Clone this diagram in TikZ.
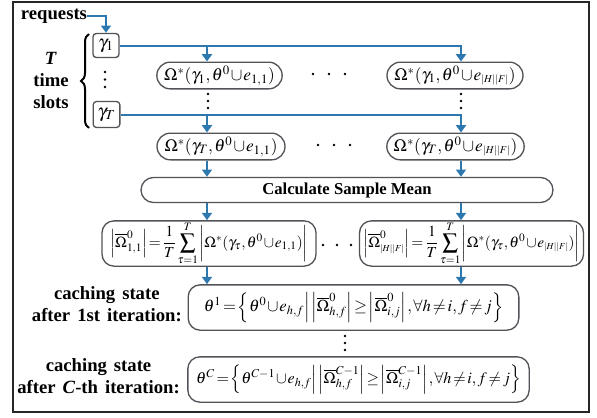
\documentclass[tikz,border=0pt]{standalone}
\usepackage{amsmath}
\usepackage{mathptmx}
\usepackage[no-math]{fontspec}
\setmainfont{Liberation Serif}
\newfontfamily\widesp{Liberation Serif}[WordSpace=1.5]
\usetikzlibrary{arrows.meta,shapes.misc,decorations.pathreplacing}
\definecolor{arrblue}{HTML}{2E78B0}
\definecolor{boxgray}{HTML}{505358}
\newcommand{\tightmath}{\thickmuskip=2mu plus 1mu\medmuskip=1mu plus 1mu\thinmuskip=1.5mu}
\newcommand{\HF}{{\scriptscriptstyle|H||F|}}
\begin{document}
\begin{tikzpicture}[x=0.75pt,y=-0.75pt,
  arr/.style={draw=arrblue,line width=1.5pt,-{Triangle[width=7.5pt,length=5.5pt]}},
  box/.style={draw=boxgray,line width=1pt,inner sep=0pt,align=center},
  pill/.style={box,rounded rectangle,minimum height=20pt,font=\fontsize{13}{15}\selectfont\tightmath},
  rbox/.style={box,rounded corners=9pt,minimum height=34pt,font=\fontsize{12.5}{15}\selectfont\tightmath},
  mbox/.style={box,rounded corners=9pt,minimum height=34pt,font=\fontsize{11.5}{14}\selectfont\tightmath},
  gbox/.style={box,rounded corners=2.5pt,font=\fontsize{14}{16}\selectfont},
  lab/.style={font=\bfseries\fontsize{14}{16}\selectfont,align=center,inner sep=0pt},
  clab/.style={lab,font=\widesp\bfseries\fontsize{14}{16}\selectfont,anchor=east},
]
\useasboundingbox (0,0) rectangle (597,418);
\draw[line width=1pt,draw=black!85] (13,2) rectangle (589,412);

% labels
\node[lab] (req) at (54,16) {requests};
\node[lab,font=\bfseries\fontsize{14}{16.5}\selectfont] (tts) at (51,80) {\textit{T}\\time\\slots};
\draw[line width=1.5pt,decorate,decoration={brace,amplitude=6pt}] (89,128) -- (89,34);

% time slot boxes
\node[gbox,minimum width=19.5pt,minimum height=18pt] (g1) at (106,45.5) {$\gamma_1$};
\node[gbox,minimum width=20pt,minimum height=19.5pt] (gT) at (106.5,114.5) {$\gamma_T$};

% Omega nodes
\node[pill,minimum width=94pt] (o11) at (219.5,75.5) {$\Omega^*(\gamma_1,\theta^0\cup e_{1,1})$};
\node[pill,minimum width=102pt] (o1H) at (455,75.5) {$\Omega^*(\gamma_1,\theta^0\cup e_\HF)$};
\node[pill,minimum width=96pt] (oT1) at (221,146.5) {$\Omega^*(\gamma_T,\theta^0\cup e_{1,1})$};
\node[pill,minimum width=103pt] (oTH) at (455.5,146.5) {$\Omega^*(\gamma_T,\theta^0\cup e_\HF)$};

% calculate
\node[box,rounded rectangle,minimum width=309pt,minimum height=18.75pt,font=\bfseries\fontsize{12.5}{15}\selectfont] (calc) at (347,190) {Calculate Sample Mean};

% mean boxes
\node[mbox,minimum width=160.5pt] (m1) at (209,243.5) {$\left|\overline{\Omega}^0_{1,1}\right|=\dfrac{1}{T}\displaystyle\sum_{\tau=1}^{T}\bigg|\Omega^*(\gamma_\tau,\theta^0\cup e_{1,1})\bigg|$};
\node[mbox,minimum width=168pt] (mH) at (471.5,243.5) {$\left|\overline{\Omega}^0_\HF\right|=\dfrac{1}{T}\displaystyle\sum_{\tau=1}^{T}\bigg|\Omega^*(\gamma_\tau,\theta^0\cup e_\HF)\bigg|$};

% theta boxes
\node[rbox,minimum width=248pt] (t1) at (353.5,307.5) {$\theta^1=\Big\{\theta^0\cup e_{h,f}\Big|\left|\overline{\Omega}^0_{h,f}\right|\geq\left|\overline{\Omega}^0_{i,j}\right|,\forall h\neq i,f\neq j\Big\}$};
\node[rbox,minimum width=256pt,font=\fontsize{12}{14.5}\selectfont\tightmath] (tC) at (358.5,379.5) {$\theta^C=\Big\{\theta^{C-1}\cup e_{h,f}\Big|\left|\overline{\Omega}^{C-1}_{h,f}\right|\geq\left|\overline{\Omega}^{C-1}_{i,j}\right|,\forall h\neq i,f\neq j\Big\}$};

\node[clab] (cs1) at (182,304) {caching state\\after 1st iteration:};
\node[clab] (csC) at (180,376) {caching state\\after \textit{C}-th iteration:};

% coordinates
\coordinate (a1) at (207,45.5);
\coordinate (b1) at (461,45.5);
\coordinate (a2) at (207,115);
\coordinate (b2) at (461,115);
\coordinate (xl) at (207,0);
\coordinate (xr) at (461,0);

% arrows
\draw[arr] (req.east) -| (g1.north);
\draw[arr] (g1.east) -- (b1) -- (b1 |- o1H.north);
\draw[arr] (a1) -- (a1 |- o11.north);
\draw[arr] (gT.east |- a2) -- (b2) -- (b2 |- oTH.north);
\draw[arr] (a2) -- (a2 |- oT1.north);
\draw[arr] (oT1.south -| xl) -- (calc.north -| xl);
\draw[arr] (oTH.south -| xr) -- (calc.north -| xr);
\draw[arr] (calc.south -| xl) -- (m1.north -| xl);
\draw[arr] (calc.south -| xr) -- (mH.north -| xr);
\draw[arr] (m1.south -| xl) -- (t1.north -| xl);
\draw[arr] (mH.south -| xr) -- (t1.north -| xr);

% dots
\foreach \y in {72,79.5,87} \fill (105,\y) circle (1.4);
\foreach \y in {94,101,108} \fill (208,\y) circle (1.4);
\foreach \y in {94,101,108} \fill (461,\y) circle (1.4);
\foreach \y in {336,343,350} \fill (345,\y) circle (1.4);
\foreach \x in {313,329,345} \fill (\x,74) circle (1.4);
\foreach \x in {318,334,350} \fill (\x,145) circle (1.4);
\foreach \x in {323,337,351} \fill (\x,245) circle (1.4);
\end{tikzpicture}
\end{document}
